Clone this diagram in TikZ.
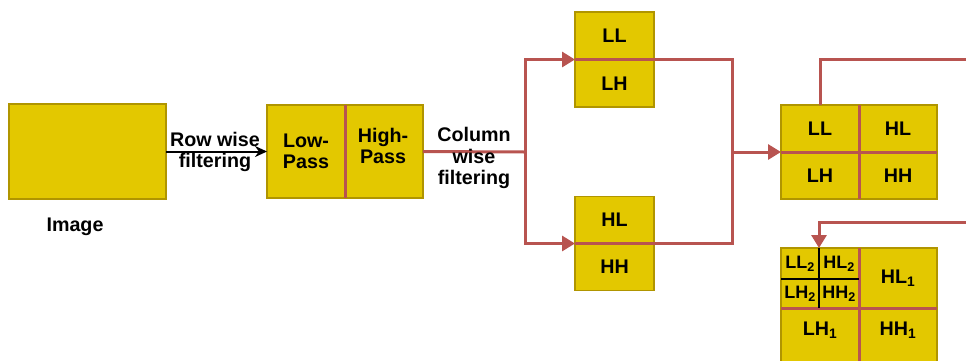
\documentclass[tikz,border=0pt]{standalone}
\usepackage{fontspec}
\setmainfont{Liberation Sans}
\usetikzlibrary{arrows.meta}
\definecolor{bandfill}{HTML}{E3C800}
\definecolor{bandedge}{HTML}{B09500}
\definecolor{bandred}{HTML}{B85450}

\begin{document}
\begin{tikzpicture}[
  x=1pt,
  y=-1pt,
  every node/.style={font=\bfseries\fontsize{19.7}{21.5}\selectfont, inner sep=0pt, outer sep=0pt, align=center},
  cell/.style={draw=bandedge, fill=bandfill, line width=1.5pt},
  small/.style={font=\bfseries\fontsize{18}{19}\selectfont},
  redline/.style={draw=bandred, line width=3pt},
  redarrow/.style={redline, -{Triangle[length=13pt,width=15pt]}},
  blackline/.style={draw=black, line width=2pt},
  blackarrow/.style={blackline, -{Stealth[length=12pt,width=11pt]}}
]
  \useasboundingbox (0,0) rectangle (966,360);
  \clip (0,0) rectangle (966,360);

  % input image and first split
  \node[cell, minimum width=157pt, minimum height=95pt] (img) at (87.5,151.5) {};
  \node (imglabel) at (75,227) {Image};
  \node[cell, minimum width=78pt, minimum height=93pt] (lp) at (306,151.5) {Low-\\Pass};
  \node[cell, minimum width=78pt, minimum height=93pt] (hp) at (384,151.5) {};
  \node (hptext) at (383,146) {High-\\Pass};

  % column wise split
  \node[cell, minimum width=79pt, minimum height=47.5pt] (ll) at (614.5,35.75) {LL};
  \node[cell, minimum width=79pt, minimum height=47.5pt] (lh) at (614.5,83.25) {LH};
  \node[cell, minimum width=79pt, minimum height=47pt] (hl) at (614.5,220) {HL};
  \node[cell, minimum width=79pt, minimum height=47pt] (hh) at (614.5,267) {HH};

  % one level
  \node[cell, minimum width=78pt, minimum height=47pt] (qll) at (820,128.5) {LL};
  \node[cell, minimum width=78pt, minimum height=47pt] (qhl) at (898,128.5) {HL};
  \node[cell, minimum width=78pt, minimum height=47pt] (qlh) at (820,175.5) {LH};
  \node[cell, minimum width=78pt, minimum height=47pt] (qhh) at (898,175.5) {HH};

  % two levels
  \node[cell, minimum width=78pt, minimum height=60pt] (b1) at (820,278) {};
  \node[cell, minimum width=78pt, minimum height=60pt] (hl1) at (898,278) {HL\textsubscript{1}};
  \node[cell, minimum width=78pt, minimum height=62pt] (lh1) at (820,339) {};
  \node[cell, minimum width=78pt, minimum height=62pt] (hh1) at (898,339) {};
  \node (lh1text) at (820,330) {LH\textsubscript{1}};
  \node (hh1text) at (898,330) {HH\textsubscript{1}};
  \node[small, minimum width=38pt, minimum height=31pt] (s1) at (800,263.5) {LL\textsubscript{2}};
  \node[small, minimum width=40pt, minimum height=31pt] (s2) at (839,263.5) {HL\textsubscript{2}};
  \node[small, minimum width=38pt, minimum height=29pt] (s3) at (800,293.5) {LH\textsubscript{2}};
  \node[small, minimum width=40pt, minimum height=29pt] (s4) at (839,293.5) {HH\textsubscript{2}};

  \coordinate (split) at (525,152);
  \coordinate (join) at (732,152);
  \coordinate (outA) at (966,59);
  \coordinate (outB) at (966,222);

  % dividers
  \draw[redline] (lp.north east) -- (lp.south east);
  \draw[redline] (qll.north east) -- (qlh.south east);
  \draw[redline] (qll.south west) -- (qhl.south east);
  \draw[redline] (b1.north east) -- (lh1.south east);
  \draw[redline] (b1.south west) -- (hl1.south east);
  \draw[blackline] (s1.north east) -- (s3.south east);
  \draw[blackline] (s1.south west) -- (s2.south east);

  % connectors
  \draw[blackarrow] (img.east) -- (lp.west);
  \node (rowlabel) at (215,152) {Row wise\\filtering};
  \draw[redline] (hp.east) -- (split);
  \node (collabel) at (474,158) {Column\\wise\\filtering};
  \draw[redarrow] (split) |- (ll.south west);
  \draw[redarrow] (split) |- (hl.south west);
  \draw[redline] (ll.south west) -| (join);
  \draw[redline] (hl.south west) -| (join);
  \draw[redarrow] (join) -- (qll.south west);
  \draw[redline] (qll.north) |- (outA);
  \draw[redarrow] (outB) -| (s1.north east);
\end{tikzpicture}
\end{document}
